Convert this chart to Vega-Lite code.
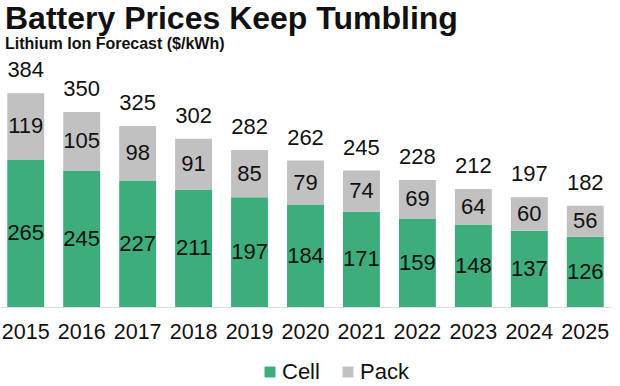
{
  "$schema": "https://vega.github.io/schema/vega-lite/v6.json",
  "width": 611,
  "height": 245,
  "autosize": {"type": "none"},
  "padding": {"left": 0, "top": 62, "right": 9, "bottom": 79},
  "background": "white",
  "config": {
    "font": "Liberation Sans",
    "view": {"stroke": null}
  },
  "title": {
    "text": "Battery Prices Keep Tumbling",
    "subtitle": "Lithium Ion Forecast ($/kWh)",
    "anchor": "start",
    "frame": "group",
    "dx": 5,
    "fontSize": 32,
    "fontWeight": "bold",
    "color": "#111111",
    "subtitleFontSize": 16,
    "subtitleFontWeight": "bold",
    "subtitleColor": "#111111",
    "subtitlePadding": 0,
    "offset": 6
  },
  "data": {
    "values": [
      {"year": "2015", "Cell": 265, "Pack": 119, "Total": 384},
      {"year": "2016", "Cell": 245, "Pack": 105, "Total": 350},
      {"year": "2017", "Cell": 227, "Pack": 98, "Total": 325},
      {"year": "2018", "Cell": 211, "Pack": 91, "Total": 302},
      {"year": "2019", "Cell": 197, "Pack": 85, "Total": 282},
      {"year": "2020", "Cell": 184, "Pack": 79, "Total": 262},
      {"year": "2021", "Cell": 171, "Pack": 74, "Total": 245},
      {"year": "2022", "Cell": 159, "Pack": 69, "Total": 228},
      {"year": "2023", "Cell": 148, "Pack": 64, "Total": 212},
      {"year": "2024", "Cell": 137, "Pack": 60, "Total": 197},
      {"year": "2025", "Cell": 126, "Pack": 56, "Total": 182}
    ]
  },
  "encoding": {
    "x": {
      "field": "year",
      "type": "ordinal",
      "scale": {"paddingInner": 0.34, "paddingOuter": 0.13},
      "axis": {
        "title": null,
        "labelAngle": 0,
        "labelFontSize": 21.5,
        "labelColor": "#111111",
        "labelPadding": 14,
        "ticks": false,
        "domainColor": "#dddddd",
        "domainWidth": 1
      }
    }
  },
  "layer": [
    {
      "transform": [
        {"fold": ["Cell", "Pack"], "as": ["type", "value"]},
        {"stack": "value", "groupby": ["year"], "sort": [{"field": "type", "order": "ascending"}], "as": ["v0", "v1"]},
        {"calculate": "(datum.v0 + datum.v1) / 2", "as": "vmid"}
      ],
      "layer": [
        {
          "mark": {"type": "bar"},
          "encoding": {
            "y": {"field": "v0", "type": "quantitative", "scale": {"domain": [0, 440], "nice": false}, "axis": null},
            "y2": {"field": "v1"},
            "color": {
              "field": "type",
              "type": "nominal",
              "scale": {"domain": ["Cell", "Pack"], "range": ["#3dae7b", "#c2c1c1"]},
              "legend": {
                "title": null,
                "orient": "none",
                "legendX": 259,
                "legendY": 299,
                "direction": "horizontal",
                "symbolType": "square",
                "symbolSize": 121,
                "symbolStrokeWidth": 0,
                "labelFontSize": 22,
                "labelColor": "#111111",
                "labelOffset": 1,
                "columnPadding": 17
              }
            }
          }
        },
        {
          "mark": {"type": "text", "fontSize": 22, "color": "#111111", "baseline": "middle"},
          "encoding": {
            "y": {"field": "vmid", "type": "quantitative"},
            "text": {"field": "value", "type": "quantitative"}
          }
        }
      ]
    },
    {
      "mark": {"type": "text", "fontSize": 22, "color": "#111111", "baseline": "alphabetic", "dy": -16},
      "encoding": {
        "y": {"field": "Total", "type": "quantitative"},
        "text": {"field": "Total", "type": "quantitative"}
      }
    }
  ]
}
